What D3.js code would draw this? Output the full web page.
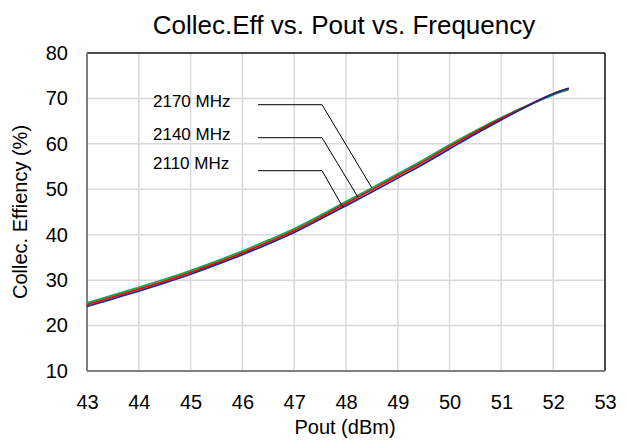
<!DOCTYPE html>
<html><head><meta charset="utf-8">
<script src="https://cdn.jsdelivr.net/npm/d3@7"></script>
<style>body{margin:0;background:#fff}svg{display:block}text{font-family:"Liberation Sans",Arial,sans-serif;fill:#000}</style>
</head><body>
<svg id="c" width="627" height="448"></svg>
<script>
const pout = [43, 43.5, 44, 44.5, 45, 45.5, 46, 46.5, 47, 47.5, 48, 48.5, 49, 49.5, 50, 50.5, 51, 51.5, 52, 52.3];
const eff2110 = [24.2, 25.9, 27.6, 29.4, 31.3, 33.4, 35.6, 38.0, 40.5, 43.4, 46.4, 49.4, 52.5, 55.6, 58.9, 62.2, 65.3, 68.3, 71.0, 72.2];
const eff2140 = [24.6, 26.3, 28.0, 29.8, 31.7, 33.8, 36.0, 38.4, 40.9, 43.8, 46.9, 49.9, 53.0, 56.1, 59.4, 62.6, 65.6, 68.4, 71.0, 72.2];
const eff2170 = [25.0, 26.7, 28.4, 30.2, 32.1, 34.2, 36.4, 38.8, 41.3, 44.2, 47.3, 50.3, 53.4, 56.5, 59.8, 62.9, 65.8, 68.4, 70.8, 72.0];
const series = [
  {name: "2170 MHz", values: eff2170, color: "#00b050"},
  {name: "2140 MHz", values: eff2140, color: "#ff0000"},
  {name: "2110 MHz", values: eff2110, color: "#1a2f80"}
];
const xTicks = [43,44,45,46,47,48,49,50,51,52,53];
const yTicks = [10,20,30,40,50,60,70,80];
// annotation anchor points (Pout where each leader line meets its curve)
const labelAnchors = [48.5, 48.23, 47.94];

const svg = d3.select("#c");
const L = 87, R = 605, T = 53, B = 371;
const x = d3.scaleLinear().domain([43, 53]).range([L, R]);
const y = d3.scaleLinear().domain([10, 80]).range([B, T]);

// gridlines
svg.append("g").selectAll("line").data(xTicks.slice(1, -1)).join("line")
  .attr("x1", d => x(d)).attr("x2", d => x(d)).attr("y1", T).attr("y2", B)
  .attr("stroke", "#d9d9d9").attr("stroke-width", 1.5);
svg.append("g").selectAll("line").data(yTicks.slice(1, -1)).join("line")
  .attr("y1", d => y(d)).attr("y2", d => y(d)).attr("x1", L).attr("x2", R)
  .attr("stroke", "#d9d9d9").attr("stroke-width", 1.5);

// frame
svg.append("line").attr("x1", L).attr("x2", R).attr("y1", T).attr("y2", T).attr("stroke", "#111").attr("stroke-width", 1.5);
svg.append("line").attr("x1", R).attr("x2", R).attr("y1", T).attr("y2", B).attr("stroke", "#111").attr("stroke-width", 1.5);
svg.append("line").attr("x1", L).attr("x2", R).attr("y1", B).attr("y2", B).attr("stroke", "#7f7f7f").attr("stroke-width", 2);
svg.append("line").attr("x1", L).attr("x2", L).attr("y1", T).attr("y2", B).attr("stroke", "#7f7f7f").attr("stroke-width", 2);

// axes (labels only)
const xAxis = d3.axisBottom(x).tickValues(xTicks).tickSize(0).tickPadding(24).tickFormat(d3.format("d"));
const gx = svg.append("g").attr("transform", `translate(0,${B})`).call(xAxis);
gx.select(".domain").remove();
gx.selectAll("text").attr("font-size", 20).attr("fill", "#000").style("font-family", "Liberation Sans, Arial, sans-serif");
const yAxis = d3.axisLeft(y).tickValues(yTicks).tickSize(0).tickPadding(19).tickFormat(d3.format("d"));
const gy = svg.append("g").attr("transform", `translate(${L},0)`).call(yAxis);
gy.select(".domain").remove();
gy.selectAll("text").attr("font-size", 20).attr("fill", "#000").style("font-family", "Liberation Sans, Arial, sans-serif");

// curves
const line = d3.line().x((d, i) => x(pout[i])).y(d => y(d)).curve(d3.curveMonotoneX);
series.forEach(s => {
  svg.append("path").datum(s.values).attr("d", line)
    .attr("fill", "none").attr("stroke", s.color).attr("stroke-width", 1.8);
});

// annotations
const interp = (vals, p) => {
  const i = d3.bisectRight(pout, p) - 1;
  const t = (p - pout[i]) / (pout[i+1] - pout[i]);
  return vals[i] + t * (vals[i+1] - vals[i]);
};
const lineY = [104.7, 137.7, 170.7];
const textY = [106.5, 139.5, 169];
series.forEach((s, k) => {
  const ax = x(labelAnchors[k]), ay = y(interp(s.values, labelAnchors[k]));
  svg.append("polyline")
    .attr("points", `258,${lineY[k]} 322,${lineY[k]} ${ax},${ay}`)
    .attr("fill", "none").attr("stroke", "#000").attr("stroke-width", 1);
  svg.append("text").attr("x", 153).attr("y", textY[k]).attr("font-size", 17).text(s.name);
});

// titles
svg.append("text").attr("x", 344).attr("y", 34).attr("text-anchor", "middle").attr("font-size", 26).text("Collec.Eff vs. Pout vs. Frequency");
svg.append("text").attr("x", 345).attr("y", 434).attr("text-anchor", "middle").attr("font-size", 20).text("Pout (dBm)");
svg.append("text").attr("transform", `translate(27,${(T+B)/2}) rotate(-90)`).attr("text-anchor", "middle").attr("font-size", 20).text("Collec. Effiency (%)");
</script>
</body></html>
